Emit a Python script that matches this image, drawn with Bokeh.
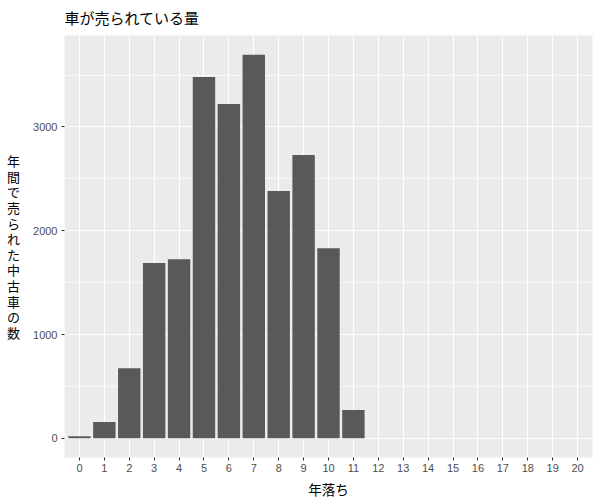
from bokeh.plotting import figure
from bokeh.models import FixedTicker, Range1d, Label, ColumnDataSource
from bokeh.embed import file_html
from bokeh.resources import INLINE

# Data
ages = list(range(0, 21))
counts = [20, 157, 675, 1688, 1726, 3481, 3221, 3696, 2382, 2729, 1832, 273,
          0, 0, 0, 0, 0, 0, 0, 0, 0]
y_ticks = [0, 1000, 2000, 3000]
y_minor = [500, 1500, 2500, 3500]
title_text = "車が売られている量"
x_label = "年落ち"
y_label = "年間で売られた中古車の数"

JP = "Noto Sans CJK JP"
NUM = "Liberation Sans"

ymax = max(counts)
p = figure(frame_width=528, frame_height=422,
           min_border_left=64, min_border_right=8, min_border_top=33, min_border_bottom=45,
           x_range=Range1d(-0.6, 20.6),
           y_range=Range1d(-0.05 * ymax, ymax * 1.05),
           output_backend="svg", toolbar_location=None,
           background_fill_color="#EBEBEB", border_fill_color="white")
p.outline_line_color = None

src = ColumnDataSource(dict(x=ages, top=counts))
p.vbar(x="x", top="top", bottom=0, width=0.9, source=src,
       fill_color="#595959", line_color=None)

# Title
p.title.text = title_text
p.title.text_font = JP
p.title.text_font_size = "15px"
p.title.text_font_style = "normal"
p.title.text_color = "black"
p.title.align = "left"
p.title.vertical_align = "top"
p.title.offset = 0
p.title.standoff = 12

# X axis
p.xaxis.ticker = FixedTicker(ticks=ages)
p.xaxis.axis_line_color = None
p.xaxis.major_tick_line_color = "#333333"
p.xaxis.major_tick_out = 3
p.xaxis.major_tick_in = 0
p.xaxis.minor_tick_line_color = None
p.xaxis.major_label_text_font = NUM
p.xaxis.major_label_text_font_size = "11px"
p.xaxis.major_label_text_color = "#4D4D4D"
p.xaxis.major_label_standoff = 3
p.xaxis.axis_label = x_label
p.xaxis.axis_label_text_font = JP
p.xaxis.axis_label_text_font_size = "13.5px"
p.xaxis.axis_label_text_font_style = "normal"
p.xaxis.axis_label_text_color = "black"
p.xaxis.axis_label_standoff = 4

# Y axis
p.yaxis.ticker = FixedTicker(ticks=y_ticks, minor_ticks=y_minor)
p.yaxis.axis_line_color = None
p.yaxis.major_tick_line_color = "#333333"
p.yaxis.major_tick_out = 3
p.yaxis.major_tick_in = 0
p.yaxis.minor_tick_line_color = None
p.yaxis.major_label_text_font = NUM
p.yaxis.major_label_text_font_size = "11px"
p.yaxis.major_label_text_color = "#4D4D4D"
p.yaxis.major_label_standoff = 3

# Grid
p.xgrid.grid_line_color = "white"
p.xgrid.grid_line_width = 1.2
p.ygrid.grid_line_color = "white"
p.ygrid.grid_line_width = 1.2
p.ygrid.minor_grid_line_color = "white"
p.ygrid.minor_grid_line_width = 0.6

# Vertical stacked y label (one character per line)
stacked = "\n".join(list(y_label))
yax = p.yaxis[0]
if "axis_label_orientation" in yax.properties():
    yax.axis_label = stacked
    yax.axis_label_orientation = "horizontal"
    yax.axis_label_text_font = JP
    yax.axis_label_text_font_size = "13px"
    yax.axis_label_text_font_style = "normal"
    yax.axis_label_text_color = "black"
    yax.axis_label_text_line_height = 0.82
    yax.axis_label_standoff = 10
else:
    ylab = Label(x=5, y=240, x_units="screen", y_units="screen",
                 text=stacked,
                 text_font=JP, text_font_size="13px", text_color="black",
                 text_align="center", text_baseline="middle", text_line_height=0.82)
    p.add_layout(ylab)

open("out.html", "w").write(file_html(p, INLINE))
